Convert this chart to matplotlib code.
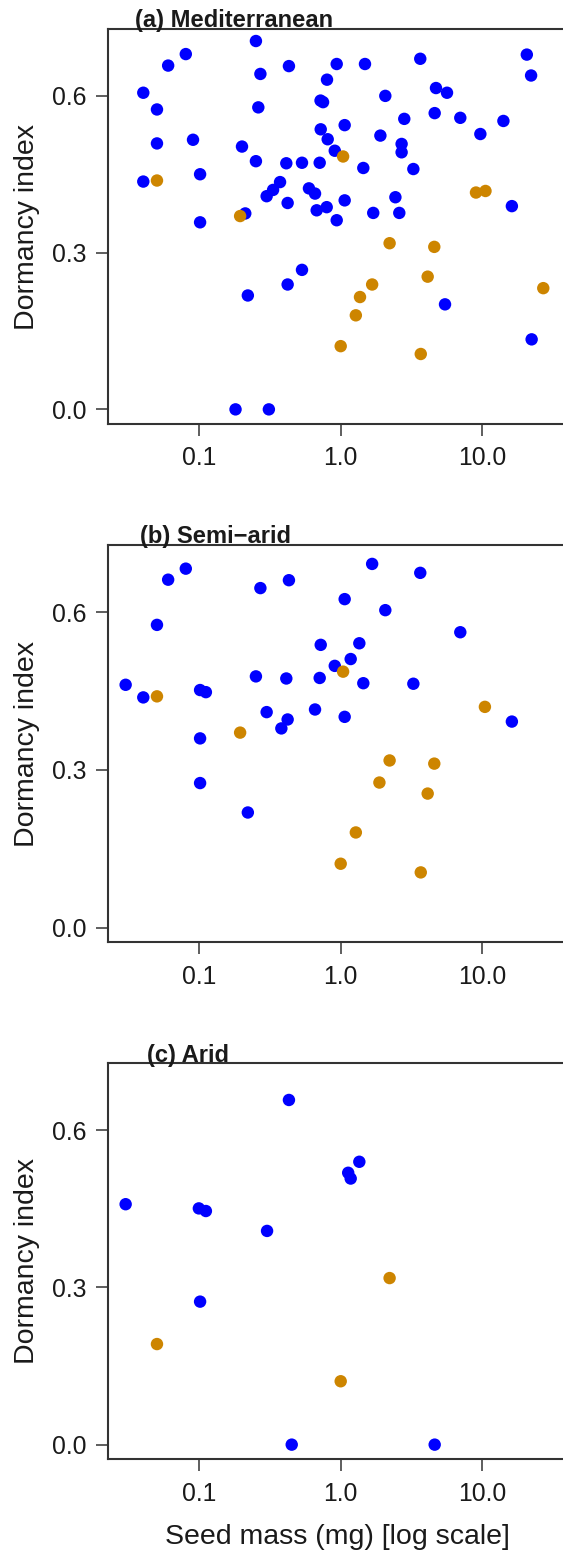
import matplotlib
matplotlib.use("Agg")
import matplotlib.pyplot as plt

plt.rcParams['font.family'] = ['Liberation Sans', 'DejaVu Sans']

# Datos: masa de semilla (mg) e indice de dormancia
a_azul_x = [0.251, 0.080, 0.060, 0.270, 0.430, 0.937, 0.800, 1.486, 3.66, 20.8,
            22.3, 0.040, 0.050, 0.261, 0.72, 0.75, 2.07, 4.73, 5.66, 4.63,
            7.03, 14.2, 2.82, 1.067, 0.722, 0.809, 0.908, 1.91, 2.70, 2.70,
            9.75, 0.050, 0.090, 0.200, 0.251, 0.412, 0.532, 0.710, 1.446, 3.27,
            0.040, 0.101, 0.372, 0.332, 0.299, 0.596, 0.658, 0.421, 0.676, 0.796,
            1.067, 2.44, 1.70, 2.60, 16.3, 0.211, 0.101, 0.937, 0.220, 0.421,
            0.532, 5.48, 22.5, 0.180, 0.310]
a_azul_y = [0.705, 0.680, 0.658, 0.642, 0.657, 0.661, 0.631, 0.661, 0.671, 0.679,
            0.639, 0.606, 0.574, 0.578, 0.591, 0.588, 0.600, 0.615, 0.606, 0.567,
            0.558, 0.552, 0.556, 0.544, 0.536, 0.517, 0.495, 0.524, 0.508, 0.492,
            0.527, 0.509, 0.516, 0.503, 0.475, 0.471, 0.472, 0.472, 0.462, 0.460,
            0.436, 0.450, 0.435, 0.420, 0.408, 0.423, 0.413, 0.395, 0.381, 0.387,
            0.400, 0.406, 0.376, 0.376, 0.389, 0.375, 0.358, 0.362, 0.218, 0.239,
            0.267, 0.201, 0.134, 0.0, 0.0]
a_nar_x = [1.04, 0.050, 0.194, 9.08, 10.6, 2.22, 4.60, 4.13, 1.67, 1.37,
           1.28, 1.0, 3.69, 27.2]
a_nar_y = [0.484, 0.438, 0.370, 0.415, 0.418, 0.318, 0.311, 0.254, 0.239, 0.215,
           0.180, 0.121, 0.106, 0.232]

b_azul_x = [1.67, 0.080, 0.060, 0.430, 0.270, 3.66, 1.067, 2.07, 0.050, 7.03,
            0.722, 1.355, 1.177, 0.908, 0.030, 0.040, 0.101, 0.111, 0.251, 0.412,
            0.710, 1.446, 3.27, 0.299, 0.421, 0.380, 0.658, 1.067, 16.3, 0.101,
            0.101, 0.220]
b_azul_y = [0.692, 0.683, 0.662, 0.661, 0.646, 0.675, 0.625, 0.604, 0.576, 0.562,
            0.538, 0.541, 0.511, 0.498, 0.462, 0.438, 0.452, 0.448, 0.478, 0.474,
            0.475, 0.465, 0.464, 0.410, 0.396, 0.379, 0.415, 0.401, 0.392, 0.360,
            0.275, 0.219]
b_nar_x = [1.04, 0.050, 10.5, 0.194, 2.22, 4.60, 1.88, 4.13, 1.28, 1.0, 3.69]
b_nar_y = [0.487, 0.440, 0.420, 0.371, 0.318, 0.312, 0.276, 0.255, 0.181, 0.1215, 0.105]

c_azul_x = [0.430, 1.355, 1.13, 1.177, 0.030, 0.099, 0.111, 0.301, 0.101, 0.450, 4.63]
c_azul_y = [0.658, 0.540, 0.519, 0.508, 0.459, 0.451, 0.446, 0.408, 0.273, 0.0, 0.0]
c_nar_x = [2.22, 0.050, 1.0]
c_nar_y = [0.318, 0.192, 0.121]

titulos = ['(a) Mediterranean', '(b) Semi\u2212arid', '(c) Arid']
x_ticks = [0.1, 1, 10]
x_ticklabels = ['0.1', '1.0', '10.0']
y_ticks = [0.0, 0.3, 0.6]
y_ticklabels = ['0.0', '0.3', '0.6']

paneles = [(a_azul_x, a_azul_y, a_nar_x, a_nar_y),
           (b_azul_x, b_azul_y, b_nar_x, b_nar_y),
           (c_azul_x, c_azul_y, c_nar_x, c_nar_y)]

W, H = 563, 1551
fig = plt.figure(figsize=(W / 100, H / 100), dpi=100)

# posiciones en pixeles: (arriba, abajo) de cada panel
izq, der = 108, 566
bordes = [(29, 424), (545, 942.3), (1063.3, 1459.3)]
titulo_x = [135, 140, 146.7]
titulo_y = [27, 542.5, 1062]

azul = '#0000FF'
naranja = '#CD8500'
gris = '#333333'

for i, (bx, by, ox, oy) in enumerate(paneles):
    top, bot = bordes[i]
    ax = fig.add_axes([izq / W, 1 - bot / H, (der - izq) / W, (bot - top) / H])
    ax.scatter(bx, by, s=80, color=azul, edgecolors='none', zorder=3)
    ax.scatter(ox, oy, s=80, color=naranja, edgecolors='none', zorder=4)
    ax.set_xscale('log')
    ax.set_xlim(0.0225, 39.4)
    ax.set_ylim(-0.028, 0.728)
    ax.set_xticks(x_ticks)
    ax.set_xticklabels(x_ticklabels)
    ax.set_yticks(y_ticks)
    ax.set_yticklabels(y_ticklabels)
    ax.minorticks_off()
    ax.tick_params(axis='both', length=8.6, width=1.1, color=gris,
                   labelsize=17.8, labelcolor='#1a1a1a')
    ax.tick_params(axis='y', pad=7)
    ax.tick_params(axis='x', pad=7.5)
    for lado in ['left', 'bottom', 'top']:
        ax.spines[lado].set_color(gris)
        ax.spines[lado].set_linewidth(1.5)
    ax.spines['right'].set_visible(False)

    ax.set_ylabel('Dormancy index', fontsize=20.5, color='#1a1a1a', va='center')
    ax.yaxis.set_label_coords((27 - izq) / (der - izq), 0.5)

    tx = (titulo_x[i] - izq) / (der - izq)
    ty = 1 + (top - titulo_y[i]) / (bot - top)
    ax.text(tx, ty, titulos[i], transform=ax.transAxes, ha='left', va='baseline',
            fontsize=17.1, fontweight='bold', color='#1a1a1a', clip_on=False)

    if i == 2:
        ax.set_xlabel('Seed mass (mg) [log scale]', fontsize=20.5, color='#1a1a1a')
        ax.xaxis.set_label_coords(0.5, -(1524 - bot) / (bot - top))

plt.savefig('out.png', dpi=100)
